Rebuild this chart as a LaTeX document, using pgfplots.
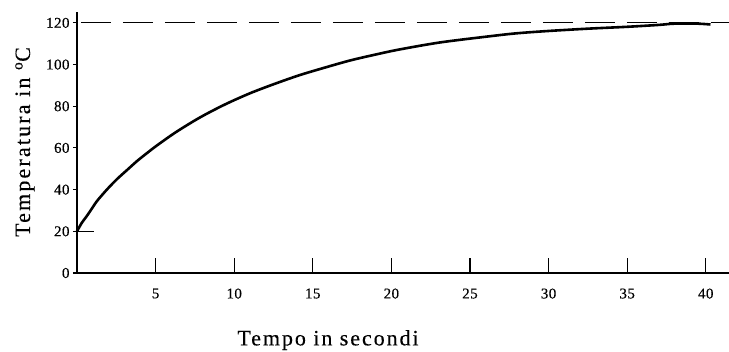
\documentclass[border=0pt]{standalone}
\usepackage{fontspec}
\setmainfont{Liberation Serif}
\usepackage{pgfplots}
\pgfplotsset{compat=1.18}
\begin{document}
\begin{tikzpicture}
\path[use as bounding box] (-77bp,-79bp) rectangle (652bp,273bp);
\begin{axis}[
  at={(0,0)}, anchor=south west,
  scale only axis, width=652bp, height=261bp,
  xmin=0, xmax=41.48, ymin=0, ymax=125.2,
  axis x line=bottom, axis y line=left,
  axis line style={-, line width=1.1bp},
  xtick={5,10,15,20,25,30,35,40},
  ytick={0,20,40,60,80,100,120},
  major tick length=4bp,
  xtick style={draw=none},
  ytick align=outside,
  tick style={line width=1.1bp, black},
  ticklabel style={font=\fontsize{15}{15}\selectfont\addfontfeature{FakeBold=0.4,LetterSpace=3}},
  xticklabel style={yshift=-10bp},
  /pgf/number format/assume math mode=true,
  clip=false,
]
\addplot[black, line width=1.3bp, dash pattern=on 30bp off 12bp] coordinates {(0.25,120) (41.48,120)};
\addplot[black, line width=1.1bp] coordinates {(0,20) (1.05,20)};
\addplot[black, line width=2.6bp, smooth, tension=0.5] coordinates {
(0,20) (0.3,24) (0.64,27.5) (1.0,31.5) (1.27,34.5) (1.9,40) (2.54,45) (3.2,49.5)
(3.82,53.7) (4.5,57.8) (5.09,61.2) (6.3,67.6) (7.82,74.6) (9.4,80.8) (11,86.2)
(12.6,90.8) (14.2,95) (15.8,98.6) (17.4,102) (19.0,104.8) (20.5,107.2) (23.1,110.6)
(26.3,113.6) (28,115) (30,116.1) (32.5,117.2) (35,118.1) (37,119) (38,119.6)
(39.5,119.6) (40.3,119.2)};
\draw[line width=1.1bp] (axis cs:5,0) -- ++(0,15bp);
\draw[line width=1.1bp] (axis cs:10,0) -- ++(0,15bp);
\draw[line width=1.1bp] (axis cs:15,0) -- ++(0,15bp);
\draw[line width=1.1bp] (axis cs:20,0) -- ++(0,15bp);
\draw[line width=1.1bp] (axis cs:25,0) -- ++(0,15bp);
\draw[line width=1.1bp] (axis cs:30,0) -- ++(0,15bp);
\draw[line width=1.1bp] (axis cs:35,0) -- ++(0,15bp);
\draw[line width=1.1bp] (axis cs:40,0) -- ++(0,15bp);
\node[font=\fontsize{22}{22}\selectfont\addfontfeature{FakeBold=0.3,LetterSpace=9}] at (rel axis cs:0.385,-0.257) {Tempo in secondi};
\node[rotate=90, font=\fontsize{22}{22}\selectfont\addfontfeature{FakeBold=0.3,LetterSpace=10}] at (rel axis cs:-0.0798,0.502) {Temperatura in \textsuperscript{o}C};
\end{axis}
\end{tikzpicture}
\end{document}
